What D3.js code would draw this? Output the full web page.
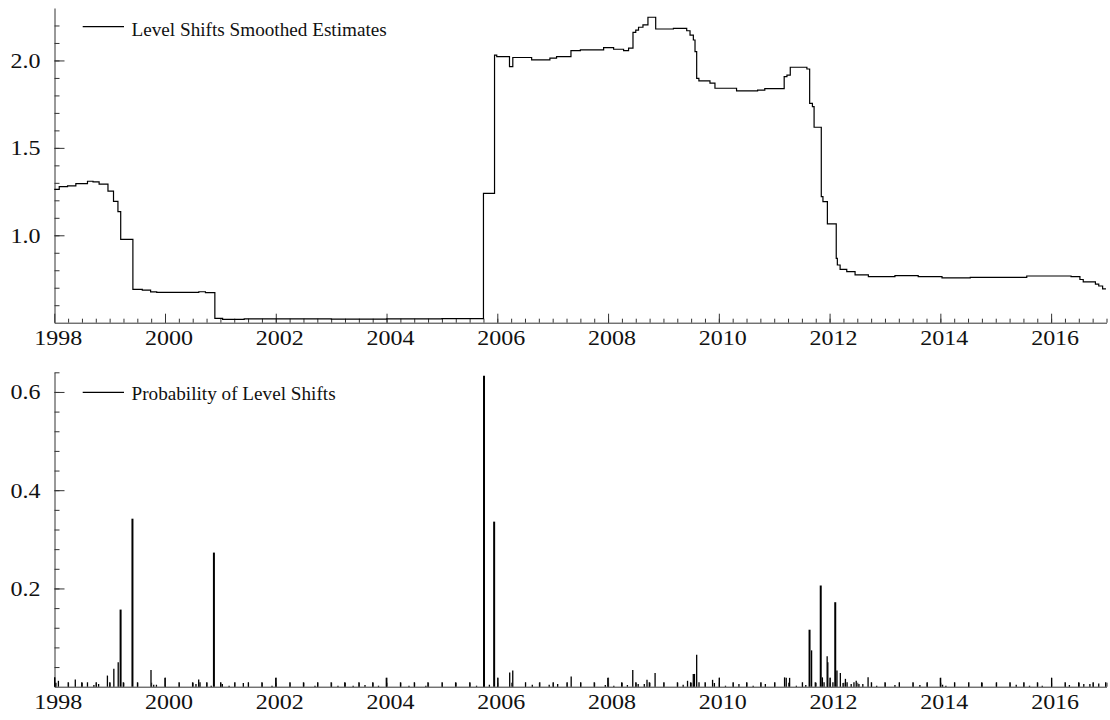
<!DOCTYPE html>
<html><head><meta charset="utf-8">
<script src="https://cdn.jsdelivr.net/npm/d3@7"></script>
<style>html,body{margin:0;padding:0;background:#fff;} svg{display:block;}</style>
</head><body><svg id="chart" width="1110" height="720"></svg>
<script>
// ---------- data ----------
const levelYears = [1998.00,1998.09,1998.24,1998.39,1998.60,1998.70,1998.81,1998.97,1999.07,1999.15,1999.20,1999.42,1999.59,1999.74,1999.85,2000.61,2000.73,2000.90,2001.04,2001.43,2003.00,2004.00,2005.00,2005.75,2005.95,2005.99,2006.22,2006.28,2006.62,2006.95,2007.07,2007.33,2007.50,2007.92,2008.10,2008.28,2008.37,2008.45,2008.50,2008.55,2008.63,2008.72,2008.86,2009.18,2009.42,2009.48,2009.54,2009.57,2009.60,2009.64,2009.84,2009.93,2010.32,2010.70,2010.83,2011.18,2011.23,2011.29,2011.59,2011.64,2011.69,2011.72,2011.85,2011.88,2011.96,2012.12,2012.14,2012.19,2012.31,2012.46,2012.70,2013.18,2013.60,2014.03,2014.54,2015.56,2016.36,2016.52,2016.58,2016.80,2016.86,2016.93,2016.99];
const levelValues = [1.263,1.278,1.283,1.295,1.309,1.305,1.293,1.253,1.194,1.135,0.977,0.691,0.686,0.676,0.673,0.677,0.672,0.525,0.519,0.522,0.521,0.522,0.523,1.240,2.031,2.022,1.965,2.017,2.003,2.013,2.022,2.056,2.060,2.073,2.064,2.056,2.070,2.161,2.174,2.190,2.203,2.247,2.180,2.183,2.170,2.145,2.117,2.050,1.898,1.883,1.870,1.841,1.826,1.830,1.839,1.907,1.916,1.961,1.951,1.755,1.736,1.618,1.221,1.192,1.065,0.868,0.830,0.805,0.792,0.773,0.763,0.769,0.763,0.756,0.759,0.767,0.763,0.747,0.733,0.721,0.710,0.694,0.694];

const probYears = [1998.008,1998.03,1998.075,1998.252,1998.38,1998.496,1998.60,1998.716,1998.758,1998.801,1998.96,1999.003,1999.076,1999.155,1999.198,1999.247,1999.412,1999.503,1999.747,1999.796,1999.845,1999.998,2000.254,2000.498,2000.559,2000.608,2000.632,2000.754,2000.834,2000.883,2001.005,2001.035,2001.157,2001.261,2001.414,2001.505,2001.749,2001.932,2001.999,2002.256,2002.5,2002.708,2002.757,2003.0,2003.123,2003.245,2003.397,2003.501,2003.611,2003.751,2003.855,2003.996,2004.252,2004.405,2004.502,2004.71,2004.747,2005.003,2005.247,2005.503,2005.625,2005.76,2005.857,2005.943,2006.01,2006.224,2006.279,2006.51,2006.632,2006.767,2006.937,2007.01,2007.09,2007.261,2007.334,2007.505,2007.75,2007.95,2007.995,2008.104,2008.245,2008.349,2008.446,2008.501,2008.544,2008.654,2008.703,2008.745,2008.849,2009.008,2009.252,2009.356,2009.435,2009.49,2009.539,2009.56,2009.60,2009.642,2009.752,2009.887,2009.92,2010.009,2010.12,2010.259,2010.363,2010.503,2010.62,2010.76,2010.84,2011.01,2011.187,2011.217,2011.278,2011.40,2011.51,2011.57,2011.638,2011.675,2011.742,2011.84,2011.87,2011.90,2011.956,2011.968,2012.01,2012.06,2012.102,2012.133,2012.194,2012.243,2012.286,2012.316,2012.39,2012.44,2012.481,2012.53,2012.60,2012.695,2012.755,2012.85,2013.0,2013.18,2013.26,2013.506,2013.63,2013.763,2014.0,2014.04,2014.10,2014.257,2014.514,2014.745,2015.014,2015.258,2015.37,2015.508,2015.61,2015.753,2015.84,2016.009,2016.253,2016.33,2016.497,2016.59,2016.70,2016.76,2016.86,2016.985];
const probValues = [0.019,0.008,0.012,0.009,0.0145,0.009,0.009,0.0034,0.009,0.0055,0.0227,0.009,0.0365,0.050,0.157,0.009,0.342,0.009,0.034,0.004,0.004,0.018,0.009,0.009,0.0055,0.0145,0.009,0.009,0.002,0.273,0.009,0.0055,0.002,0.009,0.0076,0.009,0.009,0.002,0.018,0.009,0.009,0.002,0.009,0.009,0.002,0.009,0.002,0.009,0.0034,0.009,0.002,0.018,0.009,0.002,0.009,0.002,0.009,0.009,0.009,0.009,0.002,0.633,0.004,0.336,0.018,0.029,0.033,0.009,0.004,0.009,0.004,0.009,0.0055,0.009,0.021,0.009,0.009,0.0034,0.018,0.002,0.009,0.0034,0.034,0.009,0.0055,0.0055,0.014,0.009,0.028,0.009,0.009,0.004,0.012,0.009,0.026,0.026,0.065,0.009,0.009,0.014,0.0076,0.018,0.002,0.009,0.0055,0.009,0.002,0.009,0.0055,0.009,0.019,0.018,0.018,0.002,0.009,0.0034,0.116,0.074,0.009,0.206,0.019,0.009,0.062,0.050,0.018,0.009,0.172,0.033,0.028,0.0076,0.016,0.009,0.0055,0.009,0.012,0.0055,0.0055,0.019,0.009,0.002,0.009,0.0034,0.009,0.009,0.0034,0.009,0.018,0.004,0.002,0.009,0.009,0.009,0.009,0.009,0.004,0.009,0.002,0.009,0.002,0.018,0.009,0.0034,0.009,0.0055,0.0055,0.009,0.0063,0.009];

const yearMajorTicks = [1998,2000,2002,2004,2006,2008,2010,2012,2014,2016];
const topMajorTicks = [1.0,1.5,2.0];
const topMinorTicks = [0.6,0.7,0.8,0.9,1.0,1.1,1.2,1.3,1.4,1.5,1.6,1.7,1.8,1.9,2.0,2.1,2.2];
const botMajorTicks = [0.2,0.4,0.6];
const botMinorTicks = [0.04,0.08,0.12,0.16,0.2,0.24,0.28,0.32,0.36,0.4,0.44,0.48,0.52,0.56,0.6,0.64];
const legendTop = "Level Shifts Smoothed Estimates";
const legendBottom = "Probability of Level Shifts";

// ---------- layout ----------
const svg = d3.select("#chart");
const FONT = "'Liberation Serif','Times New Roman',serif";
const AX = "#333";
const x = d3.scaleLinear().domain([1998, 2017]).range([54.25, 1106.5]);
const yearMinorTicks = d3.range(1998.25, 2017.001, 0.25);

function panel(y, axisY, legendText, legendY) {
  const g = svg.append("g");
  // x minor
  g.append("g").attr("transform", `translate(0,${axisY})`)
    .call(d3.axisBottom(x).tickValues(yearMinorTicks).tickSize(-4).tickSizeOuter(0).tickFormat(""))
    .call(s => s.select(".domain").attr("stroke", AX))
    .call(s => s.selectAll(".tick line").attr("stroke", AX));
  // x major
  g.append("g").attr("transform", `translate(0,${axisY})`)
    .call(d3.axisBottom(x).tickValues(yearMajorTicks).tickSize(-9).tickSizeOuter(0).tickFormat(d3.format("d")))
    .call(s => s.select(".domain").remove())
    .call(s => s.selectAll(".tick line").attr("stroke", AX))
    .call(s => s.selectAll(".tick text").attr("y", 0).attr("dy", 0)
      .attr("transform", "translate(3.5,22.5) scale(1.2,1)")
      .attr("fill", "#111").style("font-family", FONT).style("font-size", "20px"));
  return g;
}

function yAxis(g, y, minor, major, fmt) {
  g.append("g").attr("transform", `translate(54.5,0)`)
    .call(d3.axisLeft(y).tickValues(minor).tickSize(-5).tickSizeOuter(0).tickFormat(""))
    .call(s => s.select(".domain").attr("stroke", AX))
    .call(s => s.selectAll(".tick line").attr("stroke", AX));
  g.append("g").attr("transform", `translate(54.5,0)`)
    .call(d3.axisLeft(y).tickValues(major).tickSize(-10).tickSizeOuter(0).tickFormat(d3.format(fmt)))
    .call(s => s.select(".domain").remove())
    .call(s => s.selectAll(".tick line").attr("stroke", AX))
    .call(s => s.selectAll(".tick text").attr("x", 0).attr("dy", 0)
      .attr("transform", "translate(-14,6.8) scale(1.2,1)")
      .attr("fill", "#111").style("font-family", FONT).style("font-size", "20px"));
}

// ---------- top panel ----------
const yTop = d3.scaleLinear().domain([0.5, 2.3]).range([322.7, 8]);
const gTop = panel(0, 322.7);
yAxis(gTop, yTop, topMinorTicks, topMajorTicks, ".1f");
const levelData = levelYears.map((d, i) => [d, levelValues[i]]);
gTop.append("path").datum(levelData)
  .attr("fill", "none").attr("stroke", "#000").attr("stroke-width", 1.2)
  .attr("d", d3.line().x(d => x(d[0])).y(d => yTop(d[1])).curve(d3.curveStepAfter));
gTop.append("line").attr("x1", 82.7).attr("x2", 124).attr("y1", 26.7).attr("y2", 26.7)
  .attr("stroke", "#000").attr("stroke-width", 1.2);
gTop.append("text").attr("x", 131.5).attr("y", 36).text(legendTop)
  .style("font-family", FONT).style("font-size", "19.2px").attr("fill", "#111");

// ---------- bottom panel ----------
const yBot = d3.scaleLinear().domain([0, 0.64]).range([686.7, 372.3]);
const gBot = panel(0, 686.7);
yAxis(gBot, yBot, botMinorTicks, botMajorTicks, ".1f");
const probData = probYears.map((d, i) => [d, probValues[i]]);
gBot.append("g").selectAll("line").data(probData).join("line")
  .attr("x1", d => x(d[0])).attr("x2", d => x(d[0]))
  .attr("y1", yBot(0)).attr("y2", d => yBot(d[1]))
  .attr("stroke", "#000").attr("stroke-width", d => d[1] > 0.1 ? 2 : 1.3);
gBot.append("line").attr("x1", 82.7).attr("x2", 124).attr("y1", 392.3).attr("y2", 392.3)
  .attr("stroke", "#000").attr("stroke-width", 1.2);
gBot.append("text").attr("x", 131.5).attr("y", 400).text(legendBottom)
  .style("font-family", FONT).style("font-size", "19.2px").attr("fill", "#111");
</script></body></html>
